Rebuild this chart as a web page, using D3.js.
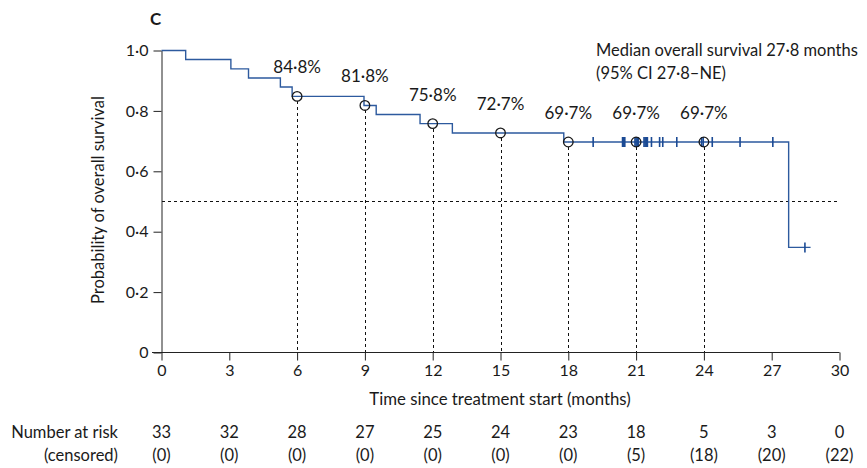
<!DOCTYPE html>
<html>
<head>
<meta charset="utf-8">
<script src="https://cdn.jsdelivr.net/npm/d3@7"></script>
<style>
  body { margin: 0; background: #fff; }
  svg text { font-family: Lato, "Open Sans", sans-serif; fill: #1a1a1a; }
</style>
</head>
<body>
<svg id="chart"></svg>
<script>
// ---------------- data ----------------
// Kaplan-Meier steps: time of each drop (months) and level after it
const stepTimes  = [0, 1.07, 3.07, 3.85, 5.26, 5.78, 8.96, 9.5, 11.44, 12.87, 17.8, 27.75];
const stepValues = [1.0, 0.970, 0.939, 0.909, 0.879, 0.848, 0.818, 0.788, 0.758, 0.727, 0.697, 0.348];
const lastTime = 28.47;

// censored patients (tick marks)
const censorTimes = [19.1, 20.4, 20.45, 20.5, 20.95,
  21.0, 21.05, 21.1, 21.35, 21.4, 21.45, 21.5, 21.68, 22.04, 22.18, 22.8, 23.9, 23.97,
  24.37, 25.6, 27.05, 28.47];

// landmark estimates
const markMonths = [6, 9, 12, 15, 18, 21, 24];
const markValues = [0.848, 0.818, 0.758, 0.727, 0.697, 0.697, 0.697];
const markLabels = ["84·8%", "81·8%", "75·8%", "72·7%", "69·7%", "69·7%", "69·7%"];

// number at risk table
const riskMonths = [0, 3, 6, 9, 12, 15, 18, 21, 24, 27, 30];
const atRisk     = [33, 32, 28, 27, 25, 24, 23, 18, 5, 3, 0];
const censored   = [0, 0, 0, 0, 0, 0, 0, 5, 18, 20, 22];

const yTicks = [0, 0.2, 0.4, 0.6, 0.8, 1.0];
const yTickLabels = ["0", "0·2", "0·4", "0·6", "0·8", "1·0"];

// ---------------- layout ----------------
const width = 867, height = 468;
const xScale = d3.scaleLinear().domain([0, 30]).range([161.5, 839.5]);
const yScale = d3.scaleLinear().domain([0, 1]).range([352.5, 50.5]);
const lineBlue = "#2d5a9e";
const tickBlue = "#1b4a94";
const fs = "16.5px";

const svg = d3.select("#chart").attr("width", width).attr("height", height);

// panel letter
svg.append("text").attr("x", 150).attr("y", 25)
  .style("font-weight", "bold").style("font-size", "17px").text("C");

// median reference line
svg.append("line")
  .attr("x1", xScale(0)).attr("x2", xScale(30))
  .attr("y1", yScale(0.5)).attr("y2", yScale(0.5))
  .attr("stroke", "#111").attr("stroke-dasharray", "3,3")
  .attr("shape-rendering", "crispEdges");

// landmark verticals
svg.append("g").selectAll("line")
  .data(markMonths)
  .join("line")
  .attr("x1", d => Math.round(xScale(d)) + 0.5).attr("x2", d => Math.round(xScale(d)) + 0.5)
  .attr("y1", (d, i) => yScale(markValues[i]) + 5)
  .attr("y2", yScale(0))
  .attr("stroke", "#111").attr("stroke-dasharray", "3,3")
  .attr("shape-rendering", "crispEdges");

// axes
const xAxis = svg.append("g")
  .attr("transform", "translate(0," + yScale(0) + ")")
  .call(d3.axisBottom(xScale).tickValues(riskMonths).tickSize(8).tickPadding(4).tickSizeOuter(0));
xAxis.select(".domain").attr("d", "M152,0H" + xScale(30));

const yAxis = svg.append("g")
  .attr("transform", "translate(" + xScale(0) + ",0)")
  .call(d3.axisLeft(yScale).tickValues(yTicks).tickFormat((d, i) => yTickLabels[i])
    .tickSize(8).tickPadding(5).tickSizeOuter(0));

svg.selectAll(".tick text").style("font-size", "16px").attr("fill", "#1a1a1a")
  .style("font-family", "Lato, sans-serif");
svg.selectAll(".domain, .tick line").attr("stroke", "#222");

// axis titles
svg.append("text")
  .attr("transform", "translate(104,200) rotate(-90)")
  .attr("text-anchor", "middle").style("font-size", fs)
  .text("Probability of overall survival");

svg.append("text")
  .attr("x", 500).attr("y", 405).attr("text-anchor", "middle").style("font-size", "16.8px")
  .text("Time since treatment start (months)");

// survival curve
const curve = stepTimes.map((t, i) => [t, stepValues[i]]);
curve.push([lastTime + 0.25, stepValues[stepValues.length - 1]]);
svg.append("path")
  .datum(curve)
  .attr("fill", "none")
  .attr("stroke", lineBlue)
  .attr("stroke-width", 1.4)
  .attr("d", d3.line().x(d => xScale(d[0])).y(d => yScale(d[1])).curve(d3.curveStepAfter));

// value of the curve at time t
function survivalAt(t) {
  const i = d3.bisectRight(stepTimes, t) - 1;
  return stepValues[Math.max(0, i)];
}

// censor ticks
svg.append("g").selectAll("line")
  .data(censorTimes)
  .join("line")
  .attr("x1", d => xScale(d)).attr("x2", d => xScale(d))
  .attr("y1", d => yScale(survivalAt(d)) - 5)
  .attr("y2", d => yScale(survivalAt(d)) + 5)
  .attr("stroke", tickBlue).attr("stroke-width", 1.6);

// landmark circles and labels
svg.append("g").selectAll("circle")
  .data(markMonths)
  .join("circle")
  .attr("cx", d => xScale(d))
  .attr("cy", (d, i) => yScale(markValues[i]))
  .attr("r", 4.8)
  .attr("fill", "none").attr("stroke", "#1a1a1a").attr("stroke-width", 1.3);

svg.append("g").selectAll("text")
  .data(markMonths)
  .join("text")
  .attr("x", d => xScale(d))
  .attr("y", (d, i) => yScale(markValues[i]) - 23)
  .attr("text-anchor", "middle").style("font-size", "17px")
  .text((d, i) => markLabels[i]);

// median annotation
svg.append("text").attr("x", 596).attr("y", 56).style("font-size", fs)
  .text("Median overall survival 27·8 months");
svg.append("text").attr("x", 596).attr("y", 79).style("font-size", fs)
  .text("(95% CI 27·8–NE)");

// number at risk table
svg.append("text").attr("x", 118).attr("y", 438).attr("text-anchor", "end")
  .style("font-size", fs).text("Number at risk");
svg.append("text").attr("x", 118).attr("y", 461).attr("text-anchor", "end")
  .style("font-size", fs).text("(censored)");

svg.append("g").selectAll("text")
  .data(riskMonths)
  .join("text")
  .attr("x", d => xScale(d)).attr("y", 438)
  .attr("text-anchor", "middle").style("font-size", fs)
  .text((d, i) => atRisk[i]);

svg.append("g").selectAll("text")
  .data(riskMonths)
  .join("text")
  .attr("x", d => xScale(d)).attr("y", 461)
  .attr("text-anchor", "middle").style("font-size", fs)
  .text((d, i) => "(" + censored[i] + ")");
</script>
</body>
</html>
